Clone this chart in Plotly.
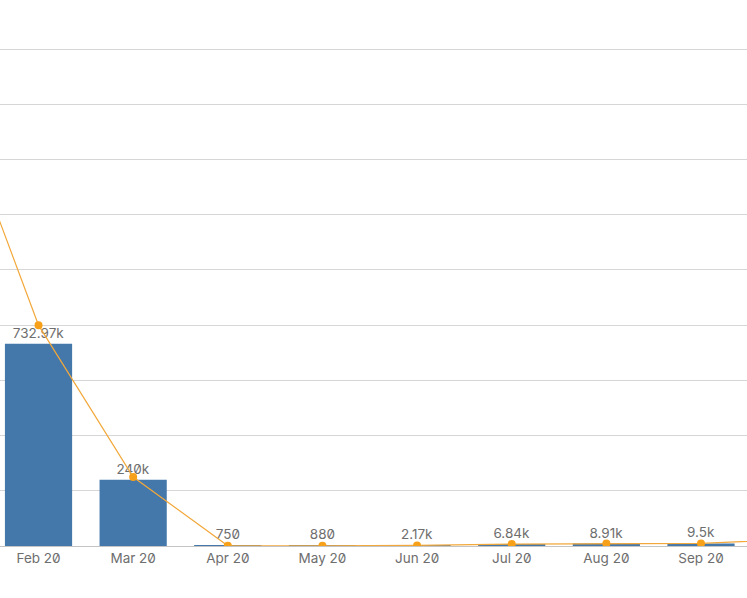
import plotly.graph_objects as go

# month categories (Jan and Oct fall just outside the visible window)
months = ["Jan 20", "Feb 20", "Mar 20", "Apr 20", "May 20",
          "Jun 20", "Jul 20", "Aug 20", "Sep 20", "Oct 20"]

# bar measure
bar_months = ["Feb 20", "Mar 20", "Apr 20", "May 20", "Jun 20", "Jul 20", "Aug 20", "Sep 20"]
bar_values = [732970, 240000, 750, 880, 2170, 6840, 8910, 9500]
bar_labels = ["732.97k", "240k", "750", "880", "2.17k", "6.84k", "8.91k", "9.5k"]

# line measure
line_values = [1717000, 800000, 250000, 750, 880, 2170, 6840, 8910, 9500, 25000]

text_col = "#6e6e6e"
fnt = "Inter, Noto Sans, sans-serif"

fig = go.Figure()
fig.add_trace(go.Bar(
    x=bar_months, y=bar_values, text=bar_labels,
    textposition="outside", cliponaxis=False,
    textfont=dict(size=13.5, color=text_col, family=fnt),
    marker=dict(color="#4477aa", line=dict(width=0)),
    width=0.71, hoverinfo="skip",
))
fig.add_trace(go.Scatter(
    x=months, y=line_values, mode="lines+markers",
    line=dict(color="#f2a83a", width=1.2),
    marker=dict(color="#f7a11a", size=8),
    hoverinfo="skip",
))

fig.update_layout(
    width=747, height=598,
    margin=dict(l=0, r=0, t=0, b=52),
    paper_bgcolor="white", plot_bgcolor="white",
    showlegend=False,
    font=dict(family=fnt, color=text_col, size=13),
)
fig.update_xaxes(
    type="category", categoryorder="array", categoryarray=months,
    range=[0.593, 8.486],
    showgrid=False, showline=True, linecolor="#c4c4c4", linewidth=1,
    ticks="", tickfont=dict(size=13.5, color=text_col),
)
fig.update_yaxes(
    range=[0, 1978000], dtick=200000,
    showgrid=True, gridcolor="#d6d6d6", gridwidth=1,
    zeroline=False, showticklabels=False,
)

css = ("document.head.insertAdjacentHTML('beforeend',"
       "'<style>body{margin:0;} text{font-feature-settings:\"zero\" 1;}</style>');")
fig.write_html("out.html", post_script=css, config={"displayModeBar": False})
